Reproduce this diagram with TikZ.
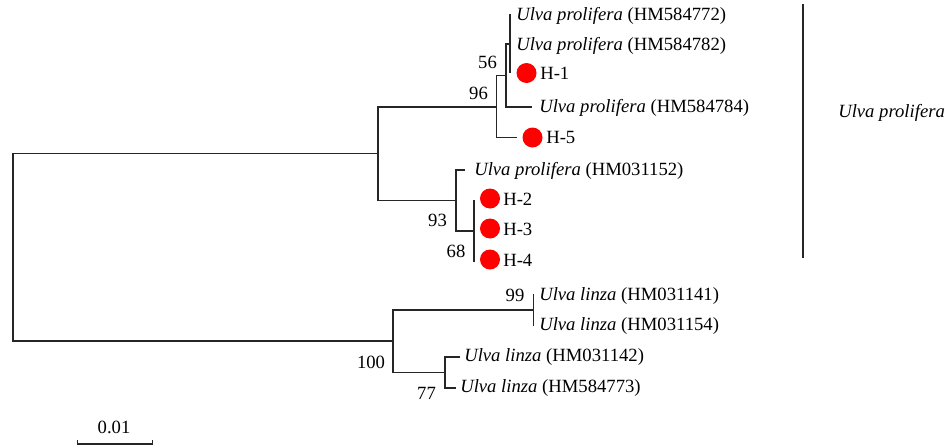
\documentclass[tikz,border=0pt]{standalone}
\usepackage{fontspec}
\setmainfont{Liberation Serif}
\begin{document}
\begin{tikzpicture}[x=0.75pt,y=-0.75pt,
  br/.style={draw=black!85, line width=0.85pt},
  leaf/.style={anchor=west, inner sep=0pt, font=\fontsize{14}{16}\selectfont},
  boot/.style={inner sep=0pt, font=\fontsize{14}{16}\selectfont},
  dot/.style={circle, fill=red, minimum size=15pt, inner sep=0pt}]
\useasboundingbox (0,0) rectangle (945,447);
% internal nodes
\coordinate (R) at (13,247);
\coordinate (A) at (378,153.5);
\coordinate (B) at (393,341);
\coordinate (C96) at (496.5,107);
\coordinate (C56) at (506,75.5);
\coordinate (Ccl) at (510,44);
\coordinate (C93) at (456,200.5);
\coordinate (C68) at (474,231);
\coordinate (C99) at (533.5,310);
\coordinate (C77) at (445,372.5);
% branch ends
\coordinate (H5e) at (517,137.5);
\coordinate (L4e) at (532,107);
\coordinate (L5e) at (465,170);
\coordinate (L8e) at (460,357);
\coordinate (L9e) at (456,388);
\coordinate (cT) at (510,14);
\coordinate (cB) at (510,73);
\coordinate (d68T) at (474,200);
\coordinate (d68B) at (474,262);
\coordinate (d99T) at (533.5,294);
\coordinate (d99B) at (533.5,326);
% tree
\draw[br] (A) -| (R) |- (B);
\draw[br] (C96) -| (A) |- (C93);
\draw[br] (C56) -| (C96) |- (H5e);
\draw[br] (Ccl) -| (C56) |- (L4e);
\draw[br] (cT) -- (cB);
\draw[br] (L5e) -| (C93) |- (C68);
\draw[br] (d68T) -- (d68B);
\draw[br] (C99) -| (B) |- (C77);
\draw[br] (d99T) -- (d99B);
\draw[br] (L8e) -| (C77) |- (L9e);
% leaves
\node[leaf] (L1) at (516,15.5) {\textit{Ulva prolifera} (HM584772)};
\node[leaf] (L2) at (516,45.5) {\textit{Ulva prolifera} (HM584782)};
\node[dot] (H1d) at (526.5,73) {};
\node[leaf] (H1) at (540,73.5) {H-1};
\node[leaf] (L4) at (539,107.5) {\textit{Ulva prolifera} (HM584784)};
\node[dot] (H5d) at (532.5,137.5) {};
\node[leaf] (H5) at (546,137.5) {H-5};
\node[leaf] (L5) at (474,170.5) {\textit{Ulva prolifera} (HM031152)};
\node[dot] (H2d) at (490,198.5) {};
\node[leaf] (H2) at (503,199) {H-2};
\node[dot] (H3d) at (490,228.5) {};
\node[leaf] (H3) at (503,229) {H-3};
\node[dot] (H4d) at (490,259.5) {};
\node[leaf] (H4) at (503,260) {H-4};
\node[leaf] (L6) at (539,296) {\textit{Ulva linza} (HM031141)};
\node[leaf] (L7) at (539,326) {\textit{Ulva linza} (HM031154)};
\node[leaf] (L8) at (464,357) {\textit{Ulva linza} (HM031142)};
\node[leaf] (L9) at (460,388) {\textit{Ulva linza} (HM584773)};
% bootstrap values
\node[boot] (b56) at (487.5,62.5) {56};
\node[boot] (b96) at (478.5,93.5) {96};
\node[boot] (b93) at (437.5,220) {93};
\node[boot] (b68) at (456,251.5) {68};
\node[boot] (b99) at (515,295) {99};
\node[boot] (b100) at (371,362) {100};
\node[boot] (b77) at (426.5,393) {77};
% clade bar
\coordinate (barT) at (803,4);
\coordinate (barB) at (803,258);
\draw[br] (barT) -- (barB);
\node[leaf] (clade) at (838,113) {\textit{Ulva prolifera}};
% scale bar
\coordinate (s1) at (77.5,444);
\coordinate (s2) at (152.5,444);
\draw[br] ([yshift=3pt]s1) -- (s1) -- (s2) -- ([yshift=3pt]s2);
\node[boot] (scl) at (114,427) {0.01};
\end{tikzpicture}
\end{document}
